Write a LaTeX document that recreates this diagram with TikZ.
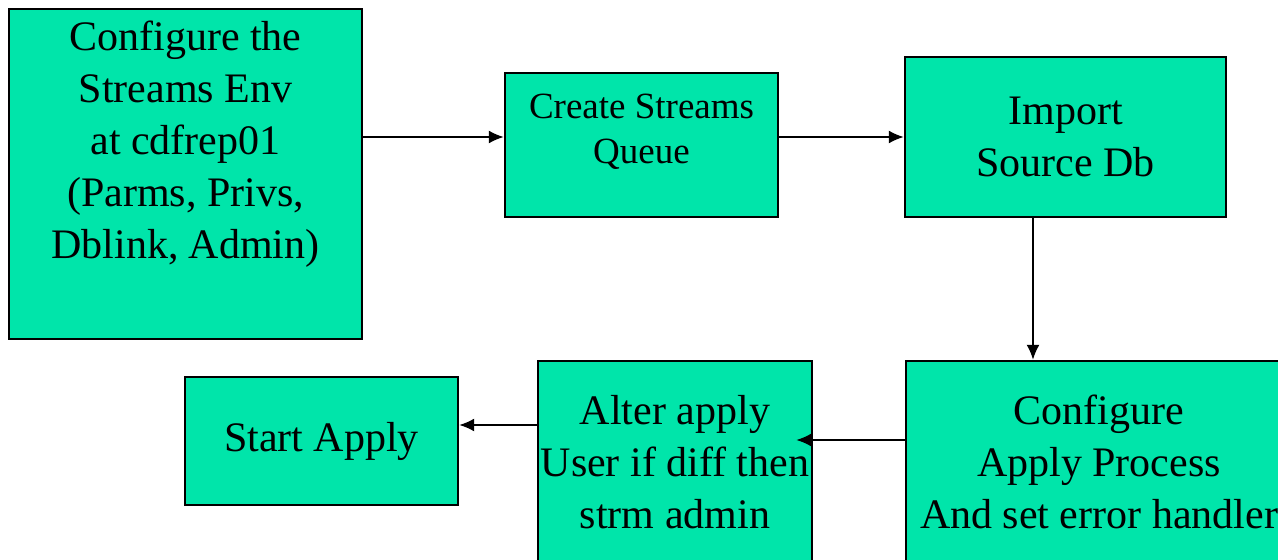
\documentclass[tikz,border=0pt]{standalone}
\usepackage{fontspec}
\setmainfont{LiberationSerif}[Extension=.ttf, UprightFont=*-Regular, BoldFont=*-Bold]
\usetikzlibrary{positioning}
\usetikzlibrary{arrows.meta}
\definecolor{boxgreen}{HTML}{00E5AA}
\tikzset{
    box/.style={
        draw,
        line width=1.2pt,
        fill=boxgreen,
        inner sep=0pt,
        align=center,
        font=\fontsize{21}{26}\selectfont
    },
    boxtext/.style={
        inner sep=0pt,
        align=center,
        font=\fontsize{21}{26}\selectfont
    },
    flow/.style={
        draw,
        -{Latex[length=7.5pt,width=6.5pt]},
        line width=0.9pt
    }
}

\begin{document}
\begin{tikzpicture}[x=0.5pt, y=-0.5pt]
    \useasboundingbox (0,0) rectangle (1278,560);
    \clip (0,0) rectangle (1278,560);
    \fill[white] (0,0) rectangle (1278,560);
    % top row
    \node[box, minimum width=176.5pt, minimum height=165pt] (env) at (185.5,174) {};
    \node[boxtext, below=6.5pt of env.north] (envtext) {Configure the\\Streams Env\\at cdfrep01\\(Parms, Privs,\\Dblink, Admin)};
    \node[box, minimum width=136.5pt, minimum height=72pt] (queue) at (641.5,145) {};
    \node[boxtext, font=\fontsize{18.5}{22.5}\selectfont, below=11pt of queue.north] (queuetext) {Create Streams\\Queue};
    \node[box, minimum width=160.5pt, minimum height=80pt] (import) at (1065.5,137) {Import\\Source Db};
    % bottom row
    \node[box, minimum width=193pt, minimum height=101pt] (apply) at (1099,462) {Configure\\Apply Process\\And set error handler};
    \node[box, minimum width=137pt, minimum height=101pt] (alter) at (675,462) {Alter apply\\User if diff then\\strm admin};
    \node[box, minimum width=136.5pt, minimum height=64pt] (start) at (321.5,441) {Start Apply};
    % connectors
    \draw[flow] (env.east |- import.west) -- (queue.west |- import.west);
    \draw[flow] (queue.east |- import.west) -- (import.west);
    \draw[flow] ([xshift=-16.25pt]import.south) -- ([xshift=-16.25pt]import.south |- apply.north);
    \draw[flow] ([yshift=11pt]apply.west) -- ([yshift=11pt,xshift=-8.5pt]alter.east);
    \coordinate (startin) at ([yshift=8pt]start.east);
    \draw[flow] (alter.west |- startin) -- (startin);
\end{tikzpicture}
\end{document}
